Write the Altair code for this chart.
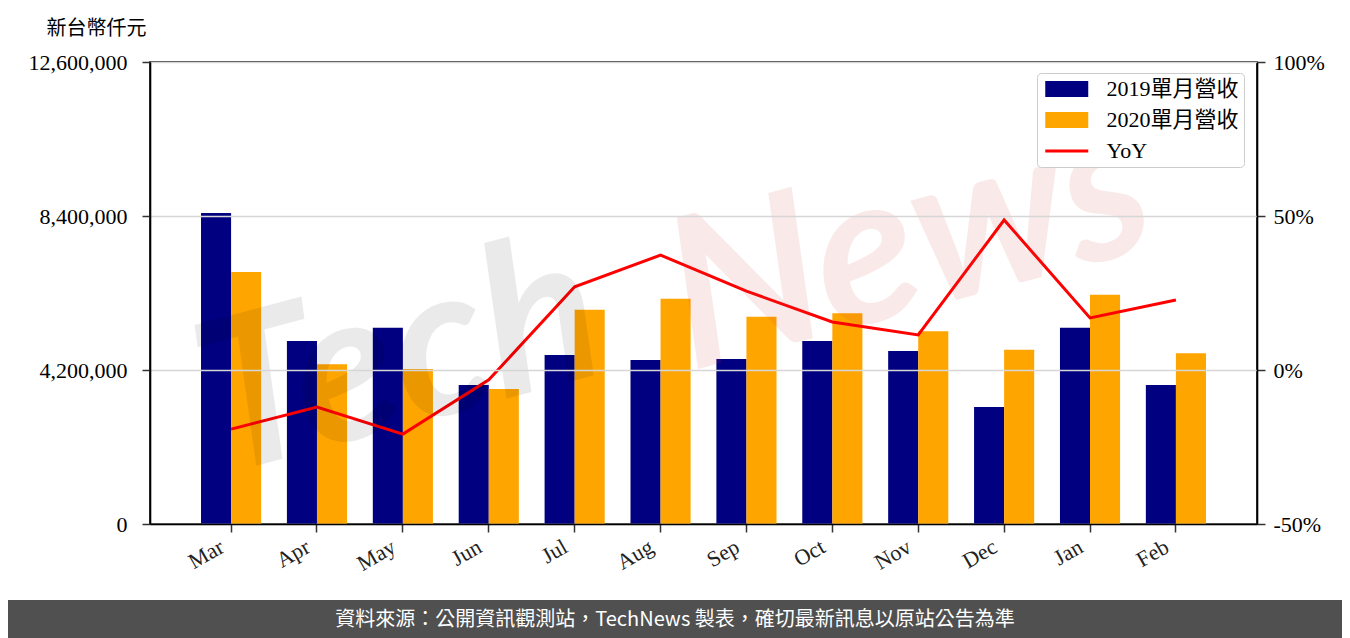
import altair as alt
import pandas as pd

months = ["Mar", "Apr", "May", "Jun", "Jul", "Aug", "Sep", "Oct", "Nov", "Dec", "Jan", "Feb"]
series_names = ["2019單月營收", "2020單月營收", "YoY"]
rev_2019 = [8480000, 4990000, 5350000, 3790000, 4610000, 4470000, 4500000, 4990000, 4720000, 3190000, 5350000, 3790000]
rev_2020 = [6870000, 4360000, 4230000, 3680000, 5840000, 6140000, 5650000, 5750000, 5260000, 4750000, 6250000, 4660000]
yoy_pct = [-19.2, -12.0, -20.8, -3.2, 27.0, 37.3, 25.6, 15.6, 11.4, 48.7, 16.9, 22.7]
left_ticks = [0, 4200000, 8400000, 12600000]
right_ticks = [-0.5, 0, 0.5, 1.0]
source_text = "資料來源：公開資訊觀測站，TechNews 製表，確切最新訊息以原站公告為準"

bars_df = pd.DataFrame({
    "month": months * 2,
    "series": [series_names[0]] * len(months) + [series_names[1]] * len(months),
    "value": rev_2019 + rev_2020,
})
line_df = pd.DataFrame({"month": months, "yoy": [v / 100 for v in yoy_pct]})
legend_df = pd.DataFrame({"series": series_names})
one_df = pd.DataFrame({"k": [0]})

SERIF = "Liberation Serif, Noto Sans CJK TC"
CJK = "Noto Sans CJK TC"
W, H = 1107, 462
PL, PT = 142, 54

x_enc = alt.X(
    "month:N", sort=months,
    scale=alt.Scale(paddingInner=0.3, paddingOuter=0.594),
    axis=alt.Axis(title=None, labelAngle=330, labelAlign="right", labelBaseline="top",
                  labelPadding=4, labelOffset=-14, labelColor="#222222", grid=False, zindex=1),
)

color_range = ["#000080", "#FFA500", "#FF0000"]

bars = alt.Chart(bars_df).mark_bar().encode(
    x=x_enc,
    xOffset=alt.XOffset("series:N", sort=series_names[:2]),
    y=alt.Y("value:Q",
            scale=alt.Scale(domain=[0, 12600000], nice=False, zero=True),
            axis=alt.Axis(values=left_ticks, format=",d", title="新台幣仟元",
                          titleAngle=0, titleX=-54, titleY=-34, titleAlign="center",
                          titleBaseline="middle", titleFont=CJK, titleFontSize=20,
                          titleFontWeight="normal", titleColor="black",
                          grid=True, gridColor="#d6d6d6", gridWidth=1.6,
                          labelPadding=15, zindex=1)),
    color=alt.Color("series:N", scale=alt.Scale(domain=series_names[:2], range=color_range[:2]),
                    legend=None),
)

line = alt.Chart(line_df).mark_line(color="#FF0000", strokeWidth=3).encode(
    x=x_enc,
    y=alt.Y("yoy:Q",
            scale=alt.Scale(domain=[-0.5, 1.0], nice=False, zero=False),
            axis=alt.Axis(orient="right", values=right_ticks, format=".0%", title=None,
                          labelExpr="replace(datum.label, '\u2212', '-')",
                          grid=False, labelPadding=8, zindex=1)),
)

legend_props = dict(
    title=None, orient="none", legendX=887, legendY=11,
    symbolSize=462, symbolOpacity=1, symbolStrokeWidth=0,
    symbolOffset=13.75, labelOffset=28.75, rowPadding=9, padding=5,
    labelFont=SERIF, labelFontSize=22, labelColor="black",
    strokeColor="#cccccc", fillColor="white", cornerRadius=4,
)
rect_path = "M-2,-0.75L2,-0.75L2,0.75L-2,0.75Z"
line_path = "M-2,-0.15L2,-0.15L2,0.15L-2,0.15Z"

legend_layer = alt.Chart(legend_df).mark_point(filled=True, opacity=0).encode(
    color=alt.Color("series:N", scale=alt.Scale(domain=series_names, range=color_range),
                    legend=alt.Legend(**legend_props)),
    shape=alt.Shape("series:N",
                    scale=alt.Scale(domain=series_names, range=[rect_path, rect_path, line_path]),
                    legend=alt.Legend(**legend_props)),
)

wm_tech = alt.Chart(one_df).mark_text(
    text="Tech", font="Lato", fontStyle="italic", fontWeight="bold", fontSize=210,
    angle=345, color="#000000", opacity=0.08, align="center", baseline="middle",
).encode(x=alt.value(250), y=alt.value(300))

wm_news = alt.Chart(one_df).mark_text(
    text="News", font="Lato", fontStyle="italic", fontWeight="bold", fontSize=210,
    angle=345, color="#d04040", opacity=0.11, align="center", baseline="middle",
).encode(x=alt.value(760), y=alt.value(185))

banner = alt.Chart(one_df).mark_rect(color="#505050").encode(
    x=alt.value(-PL), x2=alt.value(1334 - PL), y=alt.value(600 - 8 - PT), y2=alt.value(630 - PT),
)
banner_text = alt.Chart(one_df).mark_text(
    text=source_text, font=CJK, fontSize=20, color="white", align="center", baseline="middle",
).encode(x=alt.value(675 - 8 - PL), y=alt.value(620 - 8 - PT))

chart = alt.layer(
    bars, line, legend_layer, wm_tech, wm_news, banner, banner_text
).resolve_scale(
    y="independent", color="independent", shape="independent"
).properties(
    width=W, height=H,
    background="white",
    autosize=alt.AutoSizeParams(type="none"),
    padding={"left": PL, "top": PT, "right": 1334 - PL - W, "bottom": 630 - PT - H},
).configure_view(
    stroke="black", strokeWidth=1.6
).configure_axis(
    domainColor="black", domainWidth=1.6, tickColor="#333333", tickWidth=1.5, tickSize=8,
    labelFont=SERIF, labelFontSize=22, labelColor="black",
)

chart.save("out.html", embed_options={"renderer": "svg", "actions": False})
